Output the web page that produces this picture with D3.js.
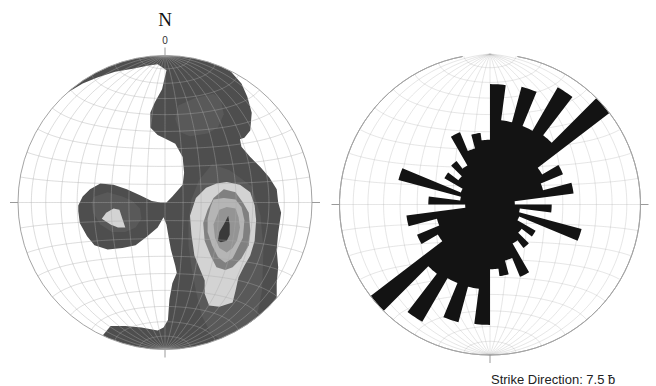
<!DOCTYPE html>
<html>
<head>
<meta charset="utf-8">
<script src="https://cdn.jsdelivr.net/npm/d3@7"></script>
<style>
  html, body { margin: 0; padding: 0; background: #fff; }
  svg { display: block; }
</style>
</head>
<body>
<svg id="chart" width="656" height="386"></svg>
<script>
// ---- Pole density contours (net coordinates: x = east, y = north, net radius = 1) ----
const levelColors = ["#4e4e4e", "#595959", "#d3d3d3", "#808080", "#b5b5b5", "#949494", "#3a3a3a"];

// level 1: outermost contour (points beyond radius 1 are clipped by the primitive circle)
const level1 = [
  [-1.30,0.75],[-0.75,0.68],[-0.66,0.75],[-0.56,0.81],[-0.46,0.85],[-0.34,0.89],[-0.22,0.91],
  [-0.12,0.93],[-0.05,0.94],[0.01,0.90],[-0.02,0.77],[-0.07,0.68],[-0.10,0.61],[-0.10,0.51],
  [-0.05,0.46],[0.01,0.43],[0.07,0.40],[0.12,0.31],[0.13,0.20],[0.12,0.12],[0.05,0.04],
  [0.01,0.00],[-0.03,0.00],[-0.09,0.01],[-0.17,0.05],[-0.26,0.09],[-0.35,0.12],[-0.44,0.13],
  [-0.51,0.09],[-0.56,0.04],[-0.59,-0.02],[-0.59,-0.06],[-0.58,-0.14],[-0.53,-0.23],
  [-0.48,-0.29],[-0.39,-0.32],[-0.29,-0.31],[-0.20,-0.29],[-0.12,-0.23],[-0.05,-0.17],
  [-0.01,-0.10],[0.01,-0.15],[0.02,-0.21],[0.04,-0.32],[0.07,-0.43],[0.08,-0.48],[0.05,-0.55],
  [0.03,-0.66],[0.02,-0.80],[-0.01,-0.85],[-0.05,-0.87],[-0.16,-0.85],[-0.27,-0.84],
  [-0.37,-0.84],[-0.42,-0.90],[-0.55,-1.20],[0.00,-1.30],[0.80,-1.00],[0.73,-0.70],
  [0.76,-0.66],[0.76,-0.55],[0.77,-0.44],[0.76,-0.32],[0.77,-0.21],[0.79,-0.07],[0.77,0.00],
  [0.76,0.09],[0.71,0.17],[0.65,0.24],[0.58,0.31],[0.52,0.38],[0.51,0.43],[0.54,0.44],
  [0.58,0.49],[0.59,0.61],[0.56,0.72],[0.52,0.81],[0.44,0.90],[0.50,1.20],[-0.50,1.30]
];

const level2 = [
  [[0.07,0.57],[0.09,0.66],[0.20,0.71],[0.33,0.74],[0.38,0.70],[0.40,0.60],[0.36,0.51],
   [0.29,0.47],[0.17,0.45],[0.10,0.48]],
  [[0.32,0.26],[0.44,0.22],[0.59,0.11],[0.65,-0.09],[0.67,-0.32],[0.66,-0.60],[0.62,-0.80],
   [0.54,-0.92],[0.41,-0.95],[0.31,-0.89],[0.25,-0.77],[0.21,-0.60],[0.18,-0.44],[0.16,-0.29],
   [0.16,-0.12],[0.18,0.02],[0.23,0.15]],
  [[-0.48,0.04],[-0.39,0.07],[-0.29,0.04],[-0.22,0.01],[-0.17,-0.04],[-0.16,-0.11],
   [-0.20,-0.17],[-0.27,-0.20],[-0.36,-0.20],[-0.44,-0.15],[-0.49,-0.07],[-0.50,0.00]]
];

const level3 = [
  [[-0.43,-0.11],[-0.40,-0.07],[-0.35,-0.04],[-0.31,-0.05],[-0.29,-0.11],[-0.27,-0.17],
   [-0.32,-0.17],[-0.37,-0.15]],
  [[0.42,0.14],[0.51,0.12],[0.58,0.07],[0.61,-0.02],[0.62,-0.12],[0.61,-0.26],[0.58,-0.36],
   [0.54,-0.43],[0.50,-0.51],[0.48,-0.60],[0.46,-0.68],[0.37,-0.71],[0.30,-0.70],[0.27,-0.62],
   [0.27,-0.53],[0.24,-0.46],[0.20,-0.36],[0.18,-0.22],[0.17,-0.09],[0.21,0.03],[0.28,0.10],
   [0.35,0.13]]
];

const level4 = [
  [[0.40,0.09],[0.48,0.07],[0.53,0.00],[0.57,-0.07],[0.58,-0.19],[0.57,-0.29],[0.52,-0.38],
   [0.46,-0.44],[0.41,-0.46],[0.35,-0.44],[0.31,-0.36],[0.27,-0.26],[0.26,-0.14],[0.29,-0.05],
   [0.33,0.03]]
];

const level5 = [
  [[0.31,-0.03],[0.33,0.02],[0.40,0.03],[0.48,0.02],[0.52,-0.03],[0.54,-0.12],[0.53,-0.24],
   [0.49,-0.32],[0.46,-0.38],[0.41,-0.41],[0.36,-0.37],[0.32,-0.29],[0.29,-0.20],[0.29,-0.11]]
];

const level6 = [
  [[0.35,-0.10],[0.37,-0.05],[0.42,-0.03],[0.48,-0.04],[0.50,-0.10],[0.51,-0.17],[0.49,-0.26],
   [0.46,-0.31],[0.42,-0.34],[0.37,-0.31],[0.34,-0.24],[0.33,-0.15]]
];

const level7 = [
  [[0.36,-0.26],[0.37,-0.20],[0.40,-0.15],[0.43,-0.09],[0.44,-0.15],[0.44,-0.22],[0.42,-0.26],
   [0.38,-0.27]]
];

const contourLevels = [[level1], level2, level3, level4, level5, level6, level7];

// ---- Strike rose: bidirectional, 7.5 degree classes (0-180, mirrored to 180-360) ----
const roseClassWidth = 7.5;
const roseCentres = [3.75, 11.25, 18.75, 26.25, 33.75, 41.25, 48.75, 56.25, 63.75, 71.25, 78.75, 86.25,
                     93.75, 101.25, 108.75, 116.25, 123.75, 131.25, 138.75, 146.25, 153.75, 161.25, 168.75, 176.25];
const roseValues  = [80, 56.5, 81, 56.5, 90, 58, 100, 40, 52.5, 36.5, 56, 16.5,
                     41, 20, 63, 21, 35, 26.5, 36.5, 30, 52, 38.5, 48, 43];
const roseMax = 100;

// ---- Layout ----
const svg = d3.select("#chart");
const left  = { cx: 165, cy: 202.5, r: 147 };
const right = { cx: 490, cy: 204.5, r: 150.5 };
const gridColor = "#a9a9a9";
const outlineColor = "#a4a4a4";

// Equal-area (Schmidt) net: meridians converge at N and S, small circles about the N-S axis
function netLines() {
  const lines = [];
  for (let lon = -80; lon <= 80; lon += 10) {
    lines.push({ type: "LineString", coordinates: d3.range(-90, 90.5, 1).map(lat => [lon, lat]) });
  }
  for (let lat = -80; lat <= 80; lat += 10) {
    lines.push({ type: "LineString", coordinates: d3.range(-90, 90.5, 1).map(lon => [lon, lat]) });
  }
  return lines;
}

function drawGrid(g, net, opacity) {
  const proj = d3.geoAzimuthalEqualArea()
    .rotate([0, 0])
    .scale(net.r / Math.SQRT2)
    .translate([net.cx, net.cy]);
  const path = d3.geoPath(proj);
  g.append("g")
    .selectAll("path")
    .data(netLines())
    .join("path")
    .attr("d", path)
    .attr("fill", "none")
    .attr("stroke", gridColor)
    .attr("stroke-opacity", opacity)
    .attr("stroke-width", 0.8);
}

function drawTicks(g, net, sides) {
  const len = 8;
  const t = {
    top:    [net.cx, net.cy - net.r - len, net.cx, net.cy - net.r],
    bottom: [net.cx, net.cy + net.r, net.cx, net.cy + net.r + len],
    left:   [net.cx - net.r - len, net.cy, net.cx - net.r, net.cy],
    right:  [net.cx + net.r, net.cy, net.cx + net.r + len, net.cy]
  };
  g.selectAll("line.tick")
    .data(sides)
    .join("line")
    .attr("class", "tick")
    .attr("x1", s => t[s][0]).attr("y1", s => t[s][1])
    .attr("x2", s => t[s][2]).attr("y2", s => t[s][3])
    .attr("stroke", "#9a9a9a")
    .attr("stroke-width", 1);
}

// ---- Left: contoured pole density ----
{
  const g = svg.append("g");
  const x = d3.scaleLinear().domain([-1, 1]).range([left.cx - left.r, left.cx + left.r]);
  const y = d3.scaleLinear().domain([-1, 1]).range([left.cy + left.r, left.cy - left.r]);

  svg.append("defs").append("clipPath").attr("id", "leftNet")
    .append("circle").attr("cx", left.cx).attr("cy", left.cy).attr("r", left.r);

  const line = d3.line().x(d => x(d[0])).y(d => y(d[1])).curve(d3.curveLinearClosed);
  const fills = g.append("g").attr("clip-path", "url(#leftNet)");
  contourLevels.forEach((polys, i) => {
    fills.append("g")
      .selectAll("path")
      .data(polys)
      .join("path")
      .attr("d", line)
      .attr("fill", levelColors[i]);
  });

  drawGrid(g, left, 0.5);

  g.append("circle")
    .attr("cx", left.cx).attr("cy", left.cy).attr("r", left.r)
    .attr("fill", "none").attr("stroke", outlineColor).attr("stroke-width", 1);

  drawTicks(g, left, ["top", "bottom", "left", "right"]);

  g.append("text")
    .attr("x", left.cx).attr("y", 26)
    .attr("text-anchor", "middle")
    .attr("font-family", "'Liberation Serif', 'Times New Roman', serif")
    .attr("font-size", 19)
    .attr("fill", "#111")
    .text("N");
  g.append("text")
    .attr("x", left.cx).attr("y", 44)
    .attr("text-anchor", "middle")
    .attr("font-family", "'Liberation Sans', Arial, sans-serif")
    .attr("font-size", 10)
    .attr("fill", "#333")
    .text("0");
}

// ---- Right: rose diagram of strike directions ----
{
  const g = svg.append("g");
  drawGrid(g, right, 0.36);

  const radius = d3.scaleLinear().domain([0, roseMax]).range([0, right.r]);
  const rad = d => d * Math.PI / 180;

  // petals in azimuth order, each class mirrored through the centre
  const petals = [];
  roseCentres.forEach((c, i) => petals.push({ centre: c, value: roseValues[i] }));
  roseCentres.forEach((c, i) => petals.push({ centre: c + 180, value: roseValues[i] }));

  // outline of the rose: each petal's outer arc, joined by radial steps
  const outline = [];
  petals.forEach(p => {
    const a0 = p.centre - roseClassWidth / 2, a1 = p.centre + roseClassWidth / 2;
    for (let k = 0; k <= 6; k++) {
      outline.push({ angle: rad(a0 + (a1 - a0) * k / 6), r: radius(p.value) });
    }
  });
  const rose = d3.lineRadial()
    .angle(d => d.angle)
    .radius(d => d.r)
    .curve(d3.curveLinearClosed);

  g.append("path")
    .attr("transform", `translate(${right.cx},${right.cy})`)
    .attr("d", rose(outline))
    .attr("fill", "#131313");

  // primitive circle, open where the great circles converge at the top
  g.append("path")
    .attr("transform", `translate(${right.cx},${right.cy})`)
    .attr("d", d3.arc()({ innerRadius: right.r, outerRadius: right.r, startAngle: rad(10.5), endAngle: rad(349.5) }))
    .attr("fill", "none").attr("stroke", outlineColor).attr("stroke-width", 1);

  drawTicks(g, right, ["bottom", "left", "right"]);

  g.append("text")
    .attr("x", 491).attr("y", 384)
    .attr("font-family", "'Liberation Sans', Arial, sans-serif")
    .attr("font-size", 13)
    .attr("fill", "#222")
    .text("Strike Direction: 7.5 \u0180");
}
</script>
</body>
</html>
